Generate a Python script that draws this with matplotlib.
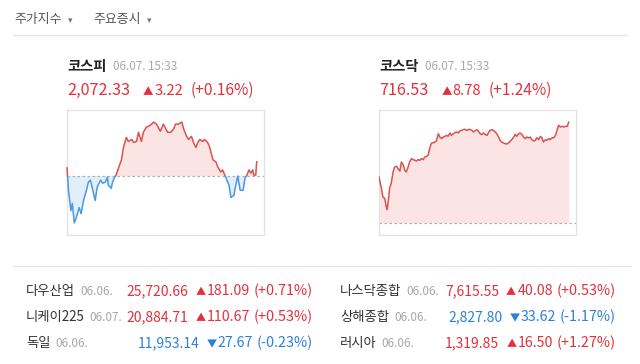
import matplotlib
matplotlib.use('Agg')
import matplotlib.pyplot as plt
from matplotlib.patches import Rectangle
from matplotlib.lines import Line2D

FONT = ['Noto Sans CJK KR', 'DejaVu Sans']
plt.rcParams['font.family'] = FONT

# ---------------- data ----------------
menu_labels = ['주가지수', '주요증시']

kospi_name = '코스피'
kospi_stamp = '06.07. 15:33'
kospi_close = 2072.33
kospi_change = 3.22
kospi_pct = 0.16
kospi_prev = 2069.11
kospi_minutes = [0, 3, 8, 11, 15, 19, 25, 29, 34, 40, 44, 48, 52, 58, 62, 69, 73, 79, 83, 85,
                 91, 93, 97, 101, 103, 112, 116, 122, 126, 133, 137, 143, 147, 153, 157, 163, 168, 174, 178, 184,
                 192, 198, 207, 213, 219, 223, 229, 236, 240, 246, 250, 256, 260, 265, 269, 273, 279, 283, 289, 293,
                 300, 306, 310, 316, 320, 326, 333, 337, 343, 347, 351, 356, 362, 366, 370, 374, 378, 382, 384, 388, 390]
kospi_values = [2070.95, 2065.89, 2061.29, 2062.90, 2058.53, 2059.68, 2061.98, 2060.60, 2063.59, 2065.89,
                2067.73, 2068.19, 2066.35, 2063.59, 2066.58, 2068.19, 2067.50, 2067.73, 2068.88, 2067.04,
                2066.35, 2067.50, 2068.65, 2069.34, 2070.03, 2072.79, 2075.55, 2077.85, 2076.93, 2077.39,
                2076.70, 2076.93, 2079.00, 2076.93, 2079.00, 2080.15, 2080.38, 2080.84, 2081.30, 2080.84,
                2079.23, 2080.84, 2079.00, 2079.00, 2079.69, 2080.84, 2080.84, 2081.30, 2079.69, 2078.08,
                2077.39, 2078.08, 2076.70, 2075.55, 2076.70, 2077.39, 2076.93, 2077.39, 2076.70, 2075.78,
                2072.79, 2072.33, 2071.18, 2070.03, 2070.49, 2068.88, 2067.04, 2064.28, 2064.74, 2067.04,
                2069.11, 2065.89, 2065.89, 2068.65, 2069.34, 2070.49, 2069.80, 2070.49, 2069.34, 2069.34, 2072.33]

kosdaq_name = '코스닥'
kosdaq_stamp = '06.07. 15:33'
kosdaq_close = 716.53
kosdaq_change = 8.78
kosdaq_pct = 1.24
kosdaq_prev = 707.75
kosdaq_minutes = [0, 5, 8, 12, 15, 17, 20,
                  22, 25, 29, 32, 36, 39, 43, 46, 50, 53, 56, 60, 63, 67, 70, 74, 77, 80, 84, 87, 91, 94, 98, 101,
                  105, 108, 111, 115, 118, 122, 125, 129, 132, 136, 139, 142, 146, 149, 153, 156, 160, 163, 166, 170,
                  173, 177, 180, 184, 187, 191, 194, 197, 201, 204, 208, 211, 215, 218, 222, 225, 228, 232, 235, 239,
                  242, 246, 249, 252, 256, 259, 263, 266, 270, 273, 277, 280, 283, 287, 290, 294, 297, 301, 304, 308,
                  311, 314, 318, 321, 325, 328, 332, 335, 338, 342, 345, 349, 352, 356, 359, 363, 366, 369, 373, 376,
                  380, 383, 387, 390]
kosdaq_values = [711.75, 710.74, 710.01, 709.87, 709.14, 708.91, 710.01,
                 710.82, 711.17, 712.19, 712.62, 712.68, 712.48, 712.27, 713.06, 712.77, 712.33,
                 712.19, 712.62, 713.06, 713.35, 713.26, 713.20, 713.14, 713.26, 713.20, 713.35,
                 713.26, 713.49, 713.55, 713.64, 714.36, 714.71, 714.71, 714.80, 714.88, 715.52,
                 715.23, 715.09, 715.23, 715.29, 715.38, 715.29, 715.58, 715.38, 715.52, 715.61,
                 715.67, 715.58, 715.75, 715.81, 715.87, 715.90, 715.81, 715.87, 715.90, 715.81,
                 715.67, 715.75, 715.87, 715.75, 715.52, 715.44, 715.58, 715.46, 715.38, 715.61,
                 715.81, 715.87, 715.81, 715.67, 715.52, 715.23, 714.94, 714.80, 714.71, 714.65,
                 714.62, 714.71, 714.88, 715.00, 715.23, 715.46, 715.29, 715.52, 715.58, 715.44,
                 715.23, 715.09, 715.23, 715.15, 715.23, 715.00, 714.88, 714.94, 715.17, 715.00,
                 715.29, 715.17, 714.80, 715.00, 714.94, 715.09, 715.00, 715.17, 715.15, 715.38,
                 715.81, 716.25, 716.10, 716.16, 716.10, 716.16, 716.16, 716.53]

left_names = ['다우산업', '니케이225', '독일']
left_dates = ['06.06.', '06.07.', '06.06.']
left_values = [25720.66, 20884.71, 11953.14]
left_changes = [181.09, 110.67, -27.67]
left_pcts = [0.71, 0.53, -0.23]

right_names = ['나스닥종합', '상해종합', '러시아']
right_dates = ['06.06.', '06.06.', '06.06.']
right_values = [7615.55, 2827.80, 1319.85]
right_changes = [40.08, -33.62, 16.50]
right_pcts = [0.53, -1.17, 1.27]

# ---------------- style ----------------
W, H = 640, 364
RED = '#e3303c'
BLUE = '#2c80d8'
LINE_RED = '#d9534f'
LINE_BLUE = '#4a98de'
FILL_RED = '#fde4e4'
FILL_BLUE = '#e2eefa'
GRAY_TXT = '#a8a8a8'
DARK = '#333333'

fig = plt.figure(figsize=(W / 100, H / 100), dpi=100)
bg = fig.add_axes([0, 0, 1, 1], zorder=0)
bg.set_xlim(0, W)
bg.set_ylim(H, 0)
bg.axis('off')


def hline(x0, x1, y, color='#e6e6e6'):
    fig.add_artist(Line2D([x0 / W, x1 / W], [1 - y / H, 1 - y / H], color=color, lw=0.9,
                          transform=fig.transFigure))


def chain(parts, x, y, ha='left'):
    """parts: list of (text, size, color, weight, gap_px). Baseline at y (px)."""
    if ha == 'left':
        s, sz, c, w, _ = parts[0]
        prev = bg.text(x, y, s, fontsize=sz, color=c, fontweight=w, ha='left', va='baseline')
        for s, sz, c, w, gap in parts[1:]:
            prev = bg.annotate(s, xy=(1, y), xycoords=(prev, 'data'), xytext=(gap, 0),
                               textcoords='offset pixels', fontsize=sz, color=c, fontweight=w,
                               ha='left', va='baseline')
    else:
        s, sz, c, w, _ = parts[-1]
        prev = bg.text(x, y, s, fontsize=sz, color=c, fontweight=w, ha='right', va='baseline')
        gap_next = parts[-1][4]
        for s, sz, c, w, gap in reversed(parts[:-1]):
            prev = bg.annotate(s, xy=(0, y), xycoords=(prev, 'data'), xytext=(-gap_next, 0),
                               textcoords='offset pixels', fontsize=sz, color=c, fontweight=w,
                               ha='right', va='baseline')
            gap_next = gap


def arrow(c):
    return '▲' if c >= 0 else '▼'


def fmt_pct(p):
    return f'({p:+.2f}%)'


# ---------------- menu ----------------
chain([(menu_labels[0], 9.3, '#555555', 'normal', 0), ('▾', 6.5, '#777777', 'normal', 6)], 14, 23)
chain([(menu_labels[1], 9.3, '#555555', 'normal', 0), ('▾', 6.5, '#777777', 'normal', 6)], 93, 23)
hline(13, 627, 34.5)

# ---------------- headers ----------------
for x0, name, stamp, close, chg, pct in [(67, kospi_name, kospi_stamp, kospi_close, kospi_change, kospi_pct),
                                          (379, kosdaq_name, kosdaq_stamp, kosdaq_close, kosdaq_change, kosdaq_pct)]:
    chain([(name, 10.3, '#222222', 'bold', 0), (stamp, 8.4, GRAY_TXT, 'normal', 7)], x0, 70.5)
    chain([(f'{close:,.2f}', 11.7, RED, 'normal', 0),
           (arrow(chg), 7.5, RED, 'normal', 13),
           (f'{abs(chg):.2f}', 10.6, RED, 'normal', 1),
           (fmt_pct(pct), 11.2, RED, 'normal', 7)], x0, 95)


# ---------------- charts ----------------
def make_chart(left_px, t, v, base, two_color):
    ax = fig.add_axes([left_px / W, 1 - 235 / H, 197 / W, 125 / H], zorder=2)
    ax.set_facecolor('white')
    ax.set_xlim(0, 405)
    ax.set_ymargin(0.12)
    ax.set_xticks([])
    ax.set_yticks([])
    for s in ax.spines.values():
        s.set_color('#e2e2e2')
        s.set_linewidth(0.9)
    ax.fill_between(t, v, base, where=[val >= base for val in v], interpolate=True,
                    color=FILL_RED, lw=0, zorder=1)
    ln_r, = ax.plot(t, v, color=LINE_RED, lw=1.1, zorder=3)
    if two_color:
        ax.fill_between(t, v, base, where=[val <= base for val in v], interpolate=True,
                        color=FILL_BLUE, lw=0, zorder=1)
        ln_b, = ax.plot(t, v, color=LINE_BLUE, lw=1.1, zorder=3)
        ln_r.set_clip_path(Rectangle((-1000, base), 3000, 1e5, transform=ax.transData))
        ln_b.set_clip_path(Rectangle((-1000, base - 1e5), 3000, 1e5, transform=ax.transData))
    ax.axhline(base, color='#b0b0b0', lw=0.9, ls=(0, (2, 2)), zorder=2)
    return ax


make_chart(67, kospi_minutes, kospi_values, kospi_prev, True)
make_chart(379, kosdaq_minutes, kosdaq_values, kosdaq_prev, False)

hline(13, 631, 265.5)

# ---------------- world table ----------------
row_base = [295, 321, 347]
for names, dates, vals, chgs, pcts, x_name, x_right in [
        (left_names, left_dates, left_values, left_changes, left_pcts, 26, 313),
        (right_names, right_dates, right_values, right_changes, right_pcts, 340, 616)]:
    for i in range(3):
        col = RED if chgs[i] >= 0 else BLUE
        chain([(names[i], 9.6, DARK, 'normal', 0), (dates[i], 8.5, GRAY_TXT, 'normal', 5)], x_name, row_base[i])
        chain([(f'{vals[i]:,.2f}', 10.0, col, 'normal', 0),
               (arrow(chgs[i]), 7.3, col, 'normal', 7),
               (f'{abs(chgs[i]):.2f}', 10.2, col, 'normal', 1),
               (fmt_pct(pcts[i]), 10.4, col, 'normal', 4)], x_right, row_base[i], ha='right')

fig.savefig('out.png', dpi=100)
